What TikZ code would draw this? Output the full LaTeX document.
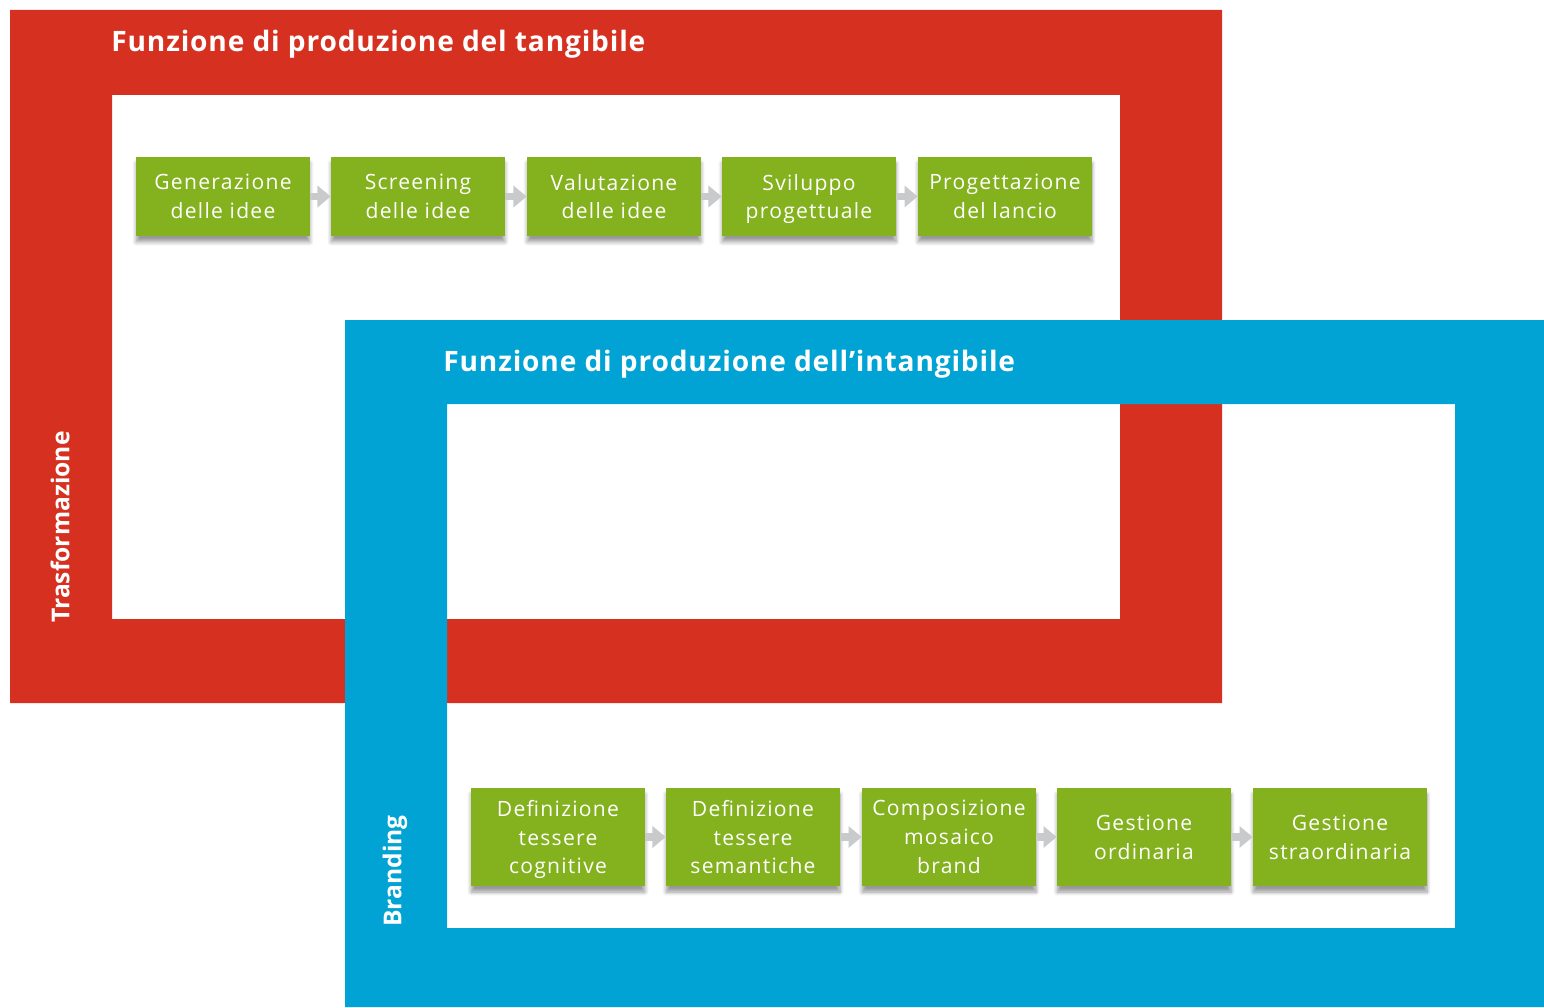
\documentclass[tikz,border=0pt]{standalone}
\usepackage{fontspec}
\setmainfont{Open Sans}
\usetikzlibrary{arrows.meta,shadows.blur}

\definecolor{tangred}{HTML}{D63120}
\definecolor{intblue}{HTML}{00A3D3}
\definecolor{stepgreen}{HTML}{84B11E}
\definecolor{flowgray}{HTML}{C9CACB}

\begin{document}
\begin{tikzpicture}[x=0.02cm,y=-0.02cm,
  phase node/.style={rectangle,fill=stepgreen,text=white,align=center,
    minimum width=3.48cm,inner sep=0pt,text depth=0pt,
    font=\fontsize{12}{16.4}\selectfont\addfontfeature{LetterSpace=6},
    blur shadow={shadow xshift=0pt,shadow yshift=-1.2mm,shadow blur steps=8,shadow opacity=40}},
  top node/.style={phase node,minimum height=1.58cm},
  low node/.style={phase node,minimum height=1.96cm},
  frame title/.style={text=white,anchor=base west,inner sep=0pt,
    font=\fontsize{16}{19}\selectfont\bfseries\addfontfeature{LetterSpace=3}},
  side title/.style={text=white,rotate=90,inner sep=0pt,
    font=\fontsize{14}{17}\selectfont\bfseries},
  flow/.style={draw=flowgray,line width=4.5pt,
    -{Triangle[length=7.5pt,width=12pt]}}]

  \useasboundingbox (0,0) rectangle (1544,1007);

  % the two frames
  \fill[tangred,even odd rule] (10,10) rectangle (1222,703) (112,95) rectangle (1120,619);
  \fill[intblue,even odd rule] (345,320) rectangle (1544,1007) (447,404) rectangle (1455,928);

  \node[frame title] (tang) at (111,52) {Funzione di produzione del tangibile};
  \node[frame title] (intang) at (443,371) {Funzione di produzione dell’intangibile};
  \node[side title] (trasf) at (60,527) {Trasformazione};
  \node[side title] (brand) at (395,871) {Branding};

  % tangibile
  \node[top node] (t1) at (223,196.5) {Generazione\\delle idee};
  \node[top node] (t2) at (418,196.5) {Screening\\delle idee};
  \node[top node] (t3) at (614,196.5) {Valutazione\\delle idee};
  \node[top node] (t4) at (809,196.5) {Sviluppo\\progettuale};
  \node[top node] (t5) at (1005,196.5) {Progettazione\\del lancio};

  % intangibile
  \node[low node] (b1) at (558,837) {Definizione\\tessere\\cognitive};
  \node[low node] (b2) at (753,837) {Definizione\\tessere\\semantiche};
  \node[low node] (b3) at (949,837) {Composizione\\mosaico\\brand};
  \node[low node] (b4) at (1144,837) {Gestione\\ordinaria};
  \node[low node] (b5) at (1340,837) {Gestione\\straordinaria};

  \path
   (t1) edge[flow] (t2)
   (t2) edge[flow] (t3)
   (t3) edge[flow] (t4)
   (t4) edge[flow] (t5)
   (b1) edge[flow] (b2)
   (b2) edge[flow] (b3)
   (b3) edge[flow] (b4)
   (b4) edge[flow] (b5);
\end{tikzpicture}
\end{document}
